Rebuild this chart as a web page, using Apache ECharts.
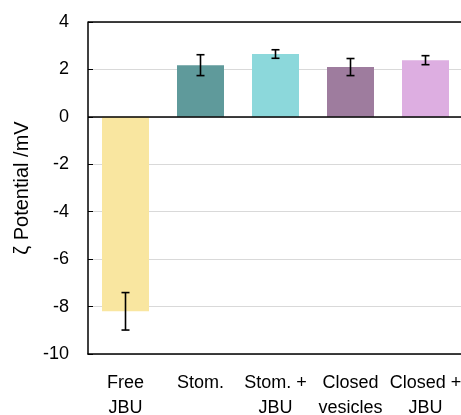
<!DOCTYPE html>
<html>
<head>
<meta charset="utf-8">
<script src="https://cdn.jsdelivr.net/npm/echarts@6/dist/echarts.min.js"></script>
<style>
  html, body { margin: 0; padding: 0; background: #fff; }
  #chart { width: 461px; height: 415px; }
</style>
</head>
<body>
<div id="chart"></div>
<script>
  var categories = ['Free\nJBU', 'Stom.', 'Stom. +\nJBU', 'Closed\nvesicles', 'Closed +\nJBU'];
  var zeta = [-8.2, 2.18, 2.65, 2.1, 2.39];
  var errs = [0.79, 0.44, 0.18, 0.36, 0.19];
  var barColors = ['#F9E6A0', '#5F9A9B', '#8CD8DB', '#9E7C9E', '#DDAEE1'];
  var yTicks = [-10, -8, -6, -4, -2, 0, 2, 4];

  var chart = echarts.init(document.getElementById('chart'));

  var barData = [];
  var errData = [];
  for (var i = 0; i < categories.length; i++) {
    barData.push({ value: zeta[i], itemStyle: { color: barColors[i] } });
    errData.push([i, zeta[i] - errs[i], zeta[i] + errs[i]]);
  }

  var font = '"Liberation Sans", Arial, sans-serif';

  chart.setOption({
    animation: false,
    grid: { left: 88, right: -2, top: 22, bottom: 61, outerBoundsMode: 'none', containLabel: false },
    xAxis: {
      type: 'category',
      data: categories,
      axisLine: { onZero: false, lineStyle: { color: '#000', width: 1.5 } },
      axisTick: { show: false },
      axisLabel: { color: '#000', fontSize: 18, fontFamily: font, lineHeight: 25, margin: 17, interval: 0 }
    },
    yAxis: {
      type: 'value',
      min: yTicks[0],
      max: yTicks[yTicks.length - 1],
      interval: 2,
      name: 'ζ Potential /mV',
      nameLocation: 'middle',
      nameGap: 56,
      nameTextStyle: { color: '#000', fontSize: 20, fontFamily: font },
      axisLine: { show: true, lineStyle: { color: '#000', width: 1.5 } },
      axisTick: { show: true, inside: true, length: 5, lineStyle: { color: '#000' } },
      axisLabel: { color: '#000', fontSize: 18, fontFamily: font, margin: 19 },
      splitLine: { show: true, lineStyle: { color: '#d9d9d9', width: 1 } }
    },
    series: [
      {
        type: 'bar',
        data: barData,
        barWidth: 47,
        markLine: {
          silent: true,
          symbol: 'none',
          label: { show: false },
          lineStyle: { color: '#000', width: 1.5, type: 'solid' },
          data: [{ yAxis: 0 }, { yAxis: 4 }]
        }
      },
      {
        type: 'custom',
        data: errData,
        z: 10,
        renderItem: function (params, api) {
          var x = api.value(0);
          var lo = api.coord([x, api.value(1)]);
          var hi = api.coord([x, api.value(2)]);
          var cap = 4;
          var st = { stroke: '#000', lineWidth: 1.6 };
          return {
            type: 'group',
            children: [
              { type: 'line', shape: { x1: lo[0], y1: lo[1], x2: hi[0], y2: hi[1] }, style: st },
              { type: 'line', shape: { x1: lo[0] - cap, y1: lo[1], x2: lo[0] + cap, y2: lo[1] }, style: st },
              { type: 'line', shape: { x1: hi[0] - cap, y1: hi[1], x2: hi[0] + cap, y2: hi[1] }, style: st }
            ]
          };
        }
      }
    ]
  });
</script>
</body>
</html>
